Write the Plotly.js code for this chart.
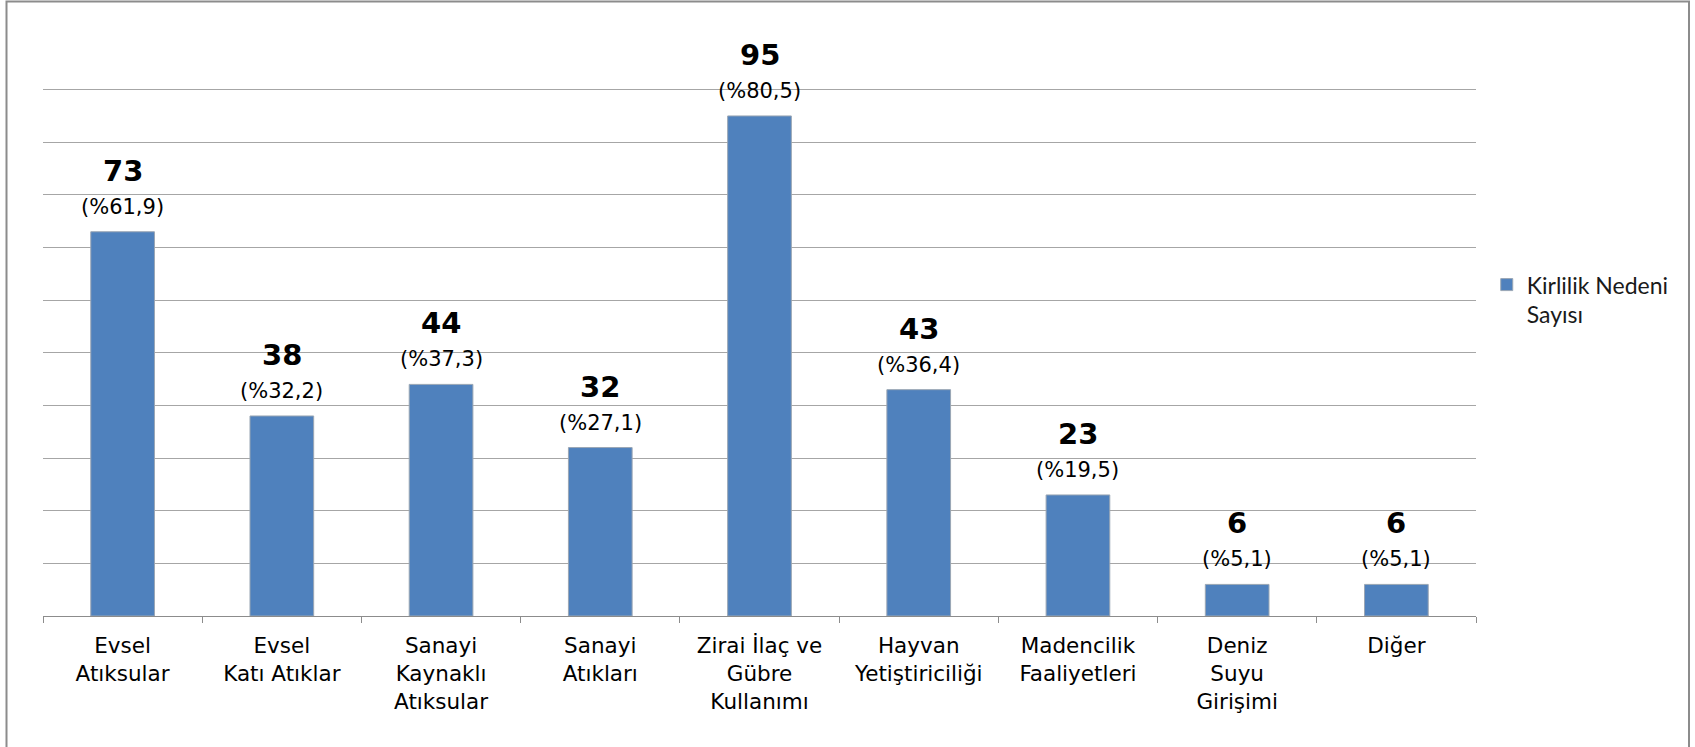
<!DOCTYPE html>
<html>
<head>
<meta charset="utf-8">
<script src="https://cdn.plot.ly/plotly-3.0.1.min.js"></script>
<style>
html,body{margin:0;padding:0;background:#fff;}
#chart{width:1695px;height:747px;}
</style>
</head>
<body>
<div id="chart"></div>
<script>
const categories = [
  "Evsel<br>Atıksular",
  "Evsel<br>Katı Atıklar",
  "Sanayi<br>Kaynaklı<br>Atıksular",
  "Sanayi<br>Atıkları",
  "Zirai İlaç ve<br>Gübre<br>Kullanımı",
  "Hayvan<br>Yetiştiriciliği",
  "Madencilik<br>Faaliyetleri",
  "Deniz<br>Suyu<br>Girişimi",
  "Diğer"
];
const counts = [73, 38, 44, 32, 95, 43, 23, 6, 6];
const percentLabels = ["61,9", "32,2", "37,3", "27,1", "80,5", "36,4", "19,5", "5,1", "5,1"];
const seriesName = "Kirlilik Nedeni<br>Sayısı";

const FONT = 'DejaVu Sans, Liberation Sans, Arial, sans-serif';
const annotations = [];
categories.forEach((c, i) => {
  annotations.push({
    x: c, y: counts[i], xref: 'x', yref: 'y', showarrow: false,
    yanchor: 'middle', yshift: 61,
    text: '<b>' + counts[i] + '</b>',
    font: {family: FONT, size: 29, color: '#000'}
  });
  annotations.push({
    x: c, y: counts[i], xref: 'x', yref: 'y', showarrow: false,
    yanchor: 'middle', yshift: 25,
    text: '(%' + percentLabels[i] + ')',
    font: {family: FONT, size: 21, color: '#000'}
  });
});

const data = [{
  type: 'bar',
  x: categories,
  y: counts,
  name: seriesName,
  showlegend: true,
  marker: {color: '#4F81BD', line: {color: '#9aa6b4', width: 1}},
  hoverinfo: 'x+y'
}];

const W = 1433, H = 529;
const layout = {
  width: 1695, height: 747,
  margin: {l: 43, r: 219, t: 87, b: 131},
  paper_bgcolor: '#fff', plot_bgcolor: '#fff',
  bargap: 0.6,
  showlegend: true,
  font: {family: FONT, color: '#000'},
  xaxis: {
    type: 'category',
    showline: true, linecolor: '#8c8c8c', linewidth: 1,
    ticks: 'outside', tickson: 'boundaries', ticklen: 6, tickcolor: '#8c8c8c',
    ticklabelstandoff: 10,
    tickfont: {family: FONT, size: 21.5, color: '#000'},
    showgrid: false, zeroline: false
  },
  yaxis: {
    range: [0, 100.5], dtick: 10, tick0: 0, showticklabels: false,
    showgrid: true, gridcolor: '#a6a6a6', gridwidth: 1,
    zeroline: false, showline: false, ticks: ''
  },
  legend: {
    x: 1.0075, xanchor: 'left', y: 0.667, yanchor: 'top',
    valign: 'top',
    font: {family: 'Lato, Noto Sans, sans-serif', size: 23, color: '#1a1a1a'}
  },
  annotations: annotations,
  shapes: [{
    type: 'rect', xref: 'paper', yref: 'paper',
    x0: (6.5 - 43) / W, x1: (1689 - 43) / W,
    y0: (616 - 770) / H, y1: (616 - 1.5) / H,
    line: {color: '#8c8c8c', width: 2}
  }]
};

Plotly.newPlot('chart', data, layout, {displayModeBar: false, staticPlot: true});
</script>
</body>
</html>
